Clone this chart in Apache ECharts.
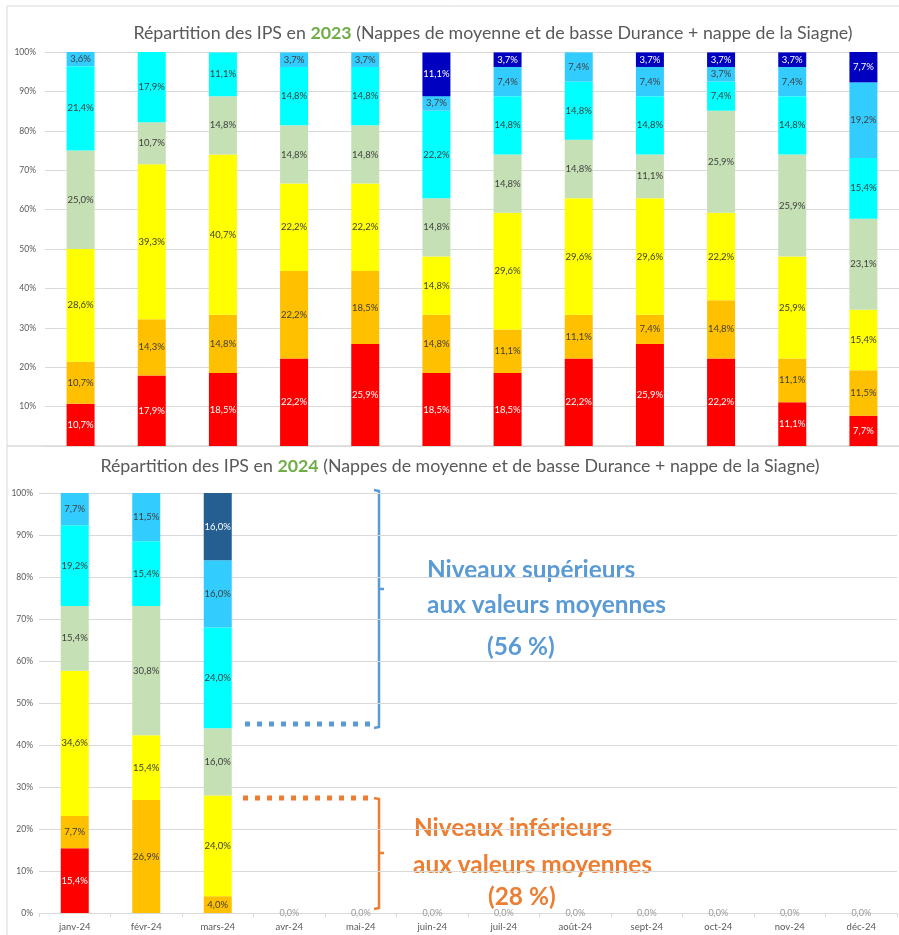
<!DOCTYPE html>
<html>
<head>
<meta charset="utf-8">
<script src="https://cdn.jsdelivr.net/npm/echarts@6/dist/echarts.min.js"></script>
<style>
  html, body { margin: 0; padding: 0; background: #fff; }
  #chart { width: 899px; height: 935px; }
</style>
</head>
<body>
<div id="chart"></div>
<script>
var mois2023 = ['janv-23', 'févr-23', 'mars-23', 'avr-23', 'mai-23', 'juin-23', 'juil-23', 'août-23', 'sept-23', 'oct-23', 'nov-23', 'déc-23'];
var mois2024 = ['janv-24', 'févr-24', 'mars-24', 'avr-24', 'mai-24', 'juin-24', 'juil-24', 'août-24', 'sept-24', 'oct-24', 'nov-24', 'déc-24'];

// 2023, du bas vers le haut
var rouge23 = [10.7, 17.9, 18.5, 22.2, 25.9, 18.5, 18.5, 22.2, 25.9, 22.2, 11.1, 7.7];
var orange23 = [10.7, 14.3, 14.8, 22.2, 18.5, 14.8, 11.1, 11.1, 7.4, 14.8, 11.1, 11.5];
var jaune23 = [28.6, 39.3, 40.7, 22.2, 22.2, 14.8, 29.6, 29.6, 29.6, 22.2, 25.9, 15.4];
var vert23 = [25.0, 10.7, 14.8, 14.8, 14.8, 14.8, 14.8, 14.8, 11.1, 25.9, 25.9, 23.1];
var cyan23 = [21.4, 17.9, 11.1, 14.8, 14.8, 22.2, 14.8, 14.8, 14.8, 7.4, 14.8, 15.4];
var bleuClair23 = [3.6, null, null, 3.7, 3.7, 3.7, 7.4, 7.4, 7.4, 3.7, 7.4, 19.2];
var bleuFonce23 = [null, null, null, null, null, 11.1, 3.7, null, 3.7, 3.7, 3.7, 7.7];

// 2024
var rouge24 = [15.4, null, null, 0, 0, 0, 0, 0, 0, 0, 0, 0];
var orange24 = [7.7, 26.9, 4.0];
var jaune24 = [34.6, 15.4, 24.0];
var vert24 = [15.4, 30.8, 16.0];
var cyan24 = [19.2, 15.4, 24.0];
var bleuClair24 = [7.7, 11.5, 16.0];
var bleuFonce24 = [null, null, 16.0];

var couleurs23 = ['#ff0000', '#ffc000', '#ffff00', '#c5e0b4', '#00ffff', '#33ccff', '#0000c0'];
var couleurs24 = ['#ff0000', '#ffc000', '#ffff00', '#c5e0b4', '#00ffff', '#33ccff', '#255e91'];
var blancs = [true, false, false, false, false, false, true];

var police = 'Lato, "Noto Sans", sans-serif';

function fmt(p) {
  if (p.value == null) return '';
  if (p.value === 0) return '{z|0,0%}';
  return p.value.toFixed(1).replace('.', ',') + '%';
}

function serie(nom, data, i, grille, couleurs) {
  return {
    name: nom,
    type: 'bar',
    stack: 'g' + grille,
    xAxisIndex: grille,
    yAxisIndex: grille,
    barWidth: 28,
    data: data,
    itemStyle: { color: couleurs[i] },
    label: {
      show: true,
      position: 'inside',
      formatter: fmt,
      fontFamily: police,
      fontSize: 9.5,
      color: blancs[i] ? '#ffffff' : '#404040',
      rich: { z: { color: '#9a9a9a', fontSize: 9, fontFamily: police } }
    }
  };
}

var noms = ['rouge', 'orange', 'jaune', 'vert', 'cyan', 'bleu clair', 'bleu foncé'];
var donnees23 = [rouge23, orange23, jaune23, vert23, cyan23, bleuClair23, bleuFonce23];
var donnees24 = [rouge24, orange24, jaune24, vert24, cyan24, bleuClair24, bleuFonce24];

var series = [];
for (var i = 0; i < 7; i++) series.push(serie(noms[i] + ' 2023', donnees23[i], i, 0, couleurs23));
for (var j = 0; j < 7; j++) series.push(serie(noms[j] + ' 2024', donnees24[j], j, 1, couleurs24));

function yAxe(grille, premier) {
  return {
    type: 'value',
    gridIndex: grille,
    min: 0,
    max: 100,
    interval: 10,
    axisLine: { show: false },
    axisTick: { show: false },
    axisLabel: {
      formatter: '{value}%',
      fontFamily: police,
      fontSize: 8.5,
      color: '#595959',
      margin: premier ? 9 : 6,
      showMinLabel: !premier
    },
    splitLine: { lineStyle: { color: '#d9d9d9', width: 1 } }
  };
}

function titre(x, y, annee) {
  return {
    type: 'text',
    x: x,
    y: y,
    style: {
      text: '{a|Répartition des IPS en }{b|' + annee + '}{a| (Nappes de moyenne et de basse Durance + nappe de la Siagne)}',
      align: 'center',
      verticalAlign: 'middle',
      rich: {
        a: { fontFamily: police, fontSize: 17.8, fill: '#595959', color: '#595959' },
        b: { fontFamily: police, fontSize: 17.8, fontWeight: 'bold', fill: '#70ad47', color: '#70ad47' }
      }
    }
  };
}

function texte(x, y, t, couleur) {
  return {
    type: 'text',
    x: x,
    y: y,
    style: {
      text: t,
      fill: couleur,
      font: 'bold 24.4px ' + police,
      verticalAlign: 'middle'
    }
  };
}

var bleu = '#5b9bd5';
var orangeA = '#ed7d31';

var graphiques = [
  { type: 'rect', shape: { x: 7, y: 6, width: 900, height: 440 }, style: { fill: 'none', stroke: '#d9d9d9', lineWidth: 1 } },
  { type: 'rect', shape: { x: 7, y: 446, width: 900, height: 500 }, style: { fill: 'none', stroke: '#d9d9d9', lineWidth: 1 } },
  titre(493, 33, '2023'),
  titre(460, 466, '2024'),
  // accolade bleue
  { type: 'polyline', shape: { points: [[374, 490], [379, 491], [379, 727], [374, 728]] }, style: { stroke: bleu, lineWidth: 2.5, fill: 'none' } },
  { type: 'line', shape: { x1: 379, y1: 589, x2: 384, y2: 589 }, style: { stroke: bleu, lineWidth: 2.5 } },
  { type: 'line', shape: { x1: 245, y1: 724, x2: 375, y2: 724 }, style: { stroke: bleu, lineWidth: 5, lineDash: [5, 7] } },
  texte(427, 570, 'Niveaux supérieurs', bleu),
  texte(427, 605, 'aux valeurs moyennes', bleu),
  texte(487, 647, '(56 %)', bleu),
  // accolade orange
  { type: 'polyline', shape: { points: [[374, 798], [379, 799], [379, 908], [374, 909]] }, style: { stroke: orangeA, lineWidth: 2.5, fill: 'none' } },
  { type: 'line', shape: { x1: 379, y1: 853, x2: 384, y2: 853 }, style: { stroke: orangeA, lineWidth: 2.5 } },
  { type: 'line', shape: { x1: 243, y1: 798, x2: 370, y2: 798 }, style: { stroke: orangeA, lineWidth: 5, lineDash: [5, 7] } },
  texte(414, 828, 'Niveaux inférieurs', orangeA),
  texte(413, 865, 'aux valeurs moyennes', orangeA),
  texte(488, 897, '(28 %)', orangeA)
];

var chart = echarts.init(document.getElementById('chart'));
var option = {
  backgroundColor: '#ffffff',
  animation: false,
  grid: [
    { left: 45, top: 52, width: 857, height: 394 },
    { left: 39, top: 493, width: 858, height: 420 }
  ],
  xAxis: [
    {
      type: 'category', gridIndex: 0, data: mois2023,
      axisLine: { show: false }, axisTick: { show: false }, axisLabel: { show: false }
    },
    {
      type: 'category', gridIndex: 1, data: mois2024,
      axisLine: { lineStyle: { color: '#d9d9d9' } },
      axisTick: { show: true, length: 4, lineStyle: { color: '#d9d9d9' } },
      axisLabel: { fontFamily: police, fontSize: 9.5, color: '#595959', margin: 9 }
    }
  ],
  yAxis: [yAxe(0, true), yAxe(1, false)],
  series: series,
  graphic: graphiques
};
chart.setOption(option);
</script>
</body>
</html>
